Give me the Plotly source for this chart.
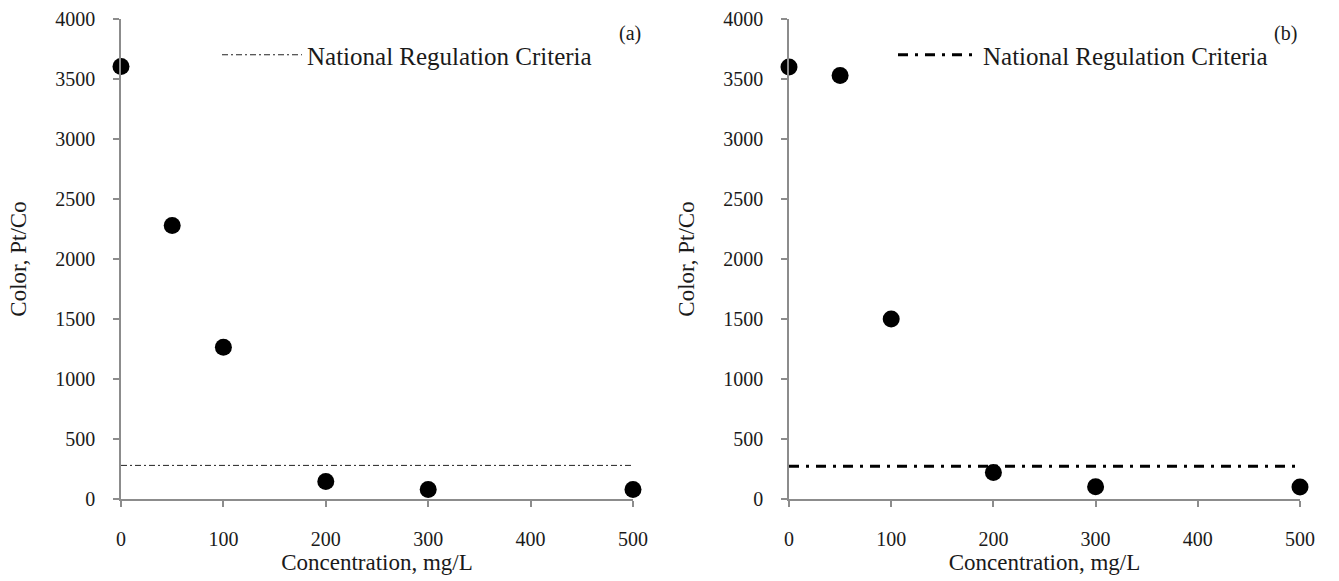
import plotly.graph_objects as go

# Dose (mg/L) and resulting colour (Pt/Co) for the two coagulants
conc = [0, 50, 100, 200, 300, 500]
color_a = [3605, 2280, 1265, 145, 80, 80]
color_b = [3600, 3530, 1500, 220, 102, 100]

# Regulation limit drawn across the full dose range
limit_x = [0, 500]
limit_a = 280
limit_b = 272

x_ticks = [0, 100, 200, 300, 400, 500]
y_ticks = [0, 500, 1000, 1500, 2000, 2500, 3000, 3500, 4000]

FONT = "Liberation Serif"
AXIS_GRAY = "#8c8c8c"
TEXT = "#1a1a1a"
W, H = 1339, 581

fig = go.Figure()

marker = dict(color="black", size=17)

fig.add_trace(go.Scatter(x=conc, y=color_a, mode="markers", marker=marker,
                         showlegend=False, xaxis="x", yaxis="y", cliponaxis=False))
fig.add_trace(go.Scatter(x=limit_x, y=[limit_a] * 2, mode="lines",
                         line=dict(color="#222", width=1, dash="6px,3px,2px,3px"),
                         name="National Regulation Criteria", legend="legend",
                         xaxis="x", yaxis="y"))

fig.add_trace(go.Scatter(x=conc, y=color_b, mode="markers", marker=marker,
                         showlegend=False, xaxis="x2", yaxis="y2", cliponaxis=False))
fig.add_trace(go.Scatter(x=limit_x, y=[limit_b] * 2, mode="lines",
                         line=dict(color="black", width=3, dash="10px,7px,3px,7px"),
                         name="National Regulation Criteria", legend="legend2",
                         xaxis="x2", yaxis="y2"))

y_dom = [(H - 499) / H, (H - 19) / H]
xa_dom = [121 / W, 633 / W]
xb_dom = [789 / W, 1300 / W]

def xaxis(dom, anchor):
    return dict(domain=dom, anchor=anchor, range=[0, 500], tickvals=x_ticks,
                automargin=False,
                showgrid=False, zeroline=False, showline=True, linecolor=AXIS_GRAY,
                linewidth=1.5, ticks="outside", ticklen=6, tickcolor=AXIS_GRAY,
                tickwidth=1.5, ticklabelstandoff=15,
                tickfont=dict(family=FONT, size=20, color=TEXT),
                title=dict(text="Concentration, mg/L", standoff=0,
                           font=dict(family=FONT, size=23, color=TEXT)))

def yaxis(anchor):
    return dict(domain=y_dom, anchor=anchor, range=[0, 4000], tickvals=y_ticks,
                automargin=False,
                showgrid=False, zeroline=False, showline=True, linecolor=AXIS_GRAY,
                linewidth=1.5, ticks="outside", ticklen=6, tickcolor=AXIS_GRAY,
                tickwidth=1.5, ticklabelstandoff=14,
                tickfont=dict(family=FONT, size=20, color=TEXT),
                title=dict(text="Color, Pt/Co", standoff=22,
                           font=dict(family=FONT, size=23, color=TEXT)))

legend_common = dict(bgcolor="rgba(0,0,0,0)", itemwidth=80,
                     font=dict(family=FONT, size=25, color=TEXT),
                     xanchor="left", yanchor="middle")

fig.update_layout(
    width=W, height=H,
    margin=dict(l=0, r=0, t=0, b=0, autoexpand=False),
    paper_bgcolor="white", plot_bgcolor="white",
    xaxis=xaxis(xa_dom, "y"),
    yaxis=yaxis("x"),
    xaxis2=xaxis(xb_dom, "y2"),
    yaxis2=yaxis("x2"),
    legend=dict(x=217 / W, y=(H - 55) / H, **legend_common),
    legend2=dict(x=893 / W, y=(H - 55) / H, **legend_common),
    annotations=[
        dict(text="(a)", x=630 / W, y=(H - 20) / H, xref="paper", yref="paper",
             showarrow=False, font=dict(family=FONT, size=20, color=TEXT)),
        dict(text="(b)", x=1299 / W, y=(H - 20) / H, xref="paper", yref="paper",
             showarrow=False, font=dict(family=FONT, size=20, color=TEXT)),
    ],
)

fig.write_html("out.html")
